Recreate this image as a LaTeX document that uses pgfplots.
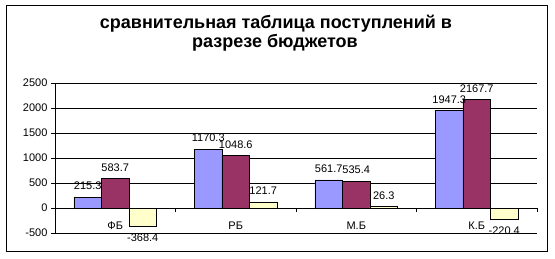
\documentclass[border=0pt]{standalone}
\usepackage{pgfplots}
\pgfplotsset{compat=1.18}
\usepackage{fontspec}
\setmainfont{Liberation Sans}
\definecolor{cblue}{HTML}{9999FF}
\definecolor{cred}{HTML}{993366}
\definecolor{cyel}{HTML}{FFFFCC}
\begin{document}
\begin{tikzpicture}
\path[use as bounding box] (0pt,0pt) rectangle (555pt,258pt);
\draw[line width=1pt] (6pt,253pt) rectangle (547pt,7pt);
\node[font=\bfseries\fontsize{18}{19}\selectfont, anchor=base] at (276pt,230pt) {сравнительная таблица поступлений в};
\node[font=\bfseries\fontsize{18}{19}\selectfont, anchor=base] at (275pt,211pt) {разрезе бюджетов};
\begin{axis}[at={(55pt,25pt)}, anchor=south west, scale only axis, width=482pt, height=150pt,
 ymin=-500, ymax=2500, xmin=-0.5, xmax=3.5,
 axis x line=middle, axis y line=left, axis line style={-, line width=0.8pt},
 ybar=0pt, bar width=27.5pt,
 ytick={-500,0,...,2500}, ymajorgrids, grid style={black,line width=0.8pt},
 xtick={0,1,2,3}, xticklabels={ФБ,РБ,М.Б,К.Б},
 major x tick style={draw=none},
 minor xtick={0.5,1.5,2.5,3.5},
 tick align=outside, major tick length=4pt, minor tick length=4pt,
 tick style={black, line width=0.8pt},
 /pgf/number format/assume math mode=true,
 /pgf/number format/1000 sep={},
 tick label style={font=\fontsize{11}{12}\selectfont},
 xticklabel style={yshift=-6pt},
 nodes near coords,
 nodes near coords align=vertical,
 every node near coord/.append style={font=\fontsize{11}{12}\selectfont, inner ysep=7pt, /pgf/number format/.cd, fixed, fixed zerofill, precision=1, 1000 sep={}, assume math mode=true},
 clip=false,
]
\addplot[fill=cblue, draw=black, line width=0.8pt] coordinates {(0,215.3) (1,1170.3) (2,561.7) (3,1947.3)};
\addplot[fill=cred, draw=black, line width=0.8pt] coordinates {(0,583.7) (1,1048.6) (2,535.4) (3,2167.7)};
\addplot[fill=cyel, draw=black, line width=0.8pt] coordinates {(0,-368.4) (1,121.7) (2,26.3) (3,-220.4)};
\end{axis}
\end{tikzpicture}
\end{document}
